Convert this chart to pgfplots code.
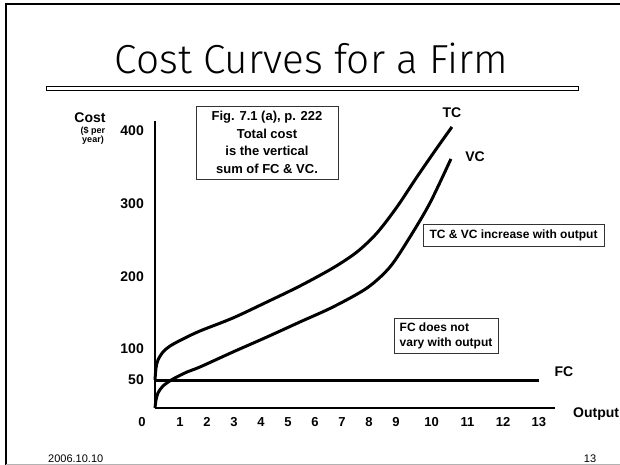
\documentclass[border=0pt]{standalone}
\usepackage{pgfplots}
\pgfplotsset{compat=1.18}
\usepackage{fontspec}
\setmainfont{Liberation Sans}
\newfontfamily\titlefont{Fira Sans}[UprightFont={* Light}]
\begin{document}
\begin{tikzpicture}
\path[use as bounding box] (0pt,0pt) rectangle (620pt,-465pt);
% slide frame
\draw[line width=2.5pt] (6pt,-465pt) -- (6pt,-4pt) -- (620pt,-4pt);
\draw[gray!60, line width=1pt] (6pt,-464.3pt) -- (620pt,-464.3pt);
% title
\node[anchor=base, inner sep=0pt] at (311.5pt,-74pt) {\resizebox{393pt}{!}{\titlefont Cost Curves for a Firm}};
\draw[line width=0.8pt] (46pt,-86.5pt) rectangle (578pt,-90.5pt);
% footer
\node[anchor=base west, inner sep=0pt, font=\fontsize{11pt}{13pt}\selectfont] at (48pt,-462pt) {2006.10.10};
\node[anchor=base, inner sep=0pt, font=\fontsize{11pt}{13pt}\selectfont] at (590pt,-462pt) {13};

\begin{axis}[
  at={(155pt,-408pt)}, anchor=south west,
  scale only axis, width=400pt, height=287pt,
  xmin=0, xmax=13.45, ymin=0, ymax=413.7,
  x coord trafo/.code={\pgfmathparse{25*#1+2*max(#1-1,0)+8.75*max(#1-9,0)}},
  x coord inv trafo/.code={\pgfmathparse{#1/25-0.002963*max(#1-25,0)-0.009065*max(#1-241,0)}},
  y coord trafo/.code={\pgfmathparse{0.56*#1+0.06*max(#1-50,0)+0.1067*max(#1-100,0)}},
  y coord inv trafo/.code={\pgfmathparse{#1/0.56-0.1728*max(#1-28,0)-0.2368*max(#1-59,0)}},
  axis lines=left,
  axis line style={-, line width=1.5pt},
  major tick length=0pt,
  xtick={1,2,3,4,5,6,7,8,9,10,11,12,13},
  xticklabels={1,2,3,4,5,6,7,8,9,10,11,12,13},
  extra x ticks={0}, extra x tick labels={0},
  extra x tick style={xticklabel style={xshift=-13pt}},
  ytick={50,100,200,300,400},
  yticklabels={50,100,200,300,400},
  xticklabel style={font=\bfseries\fontsize{13pt}{15pt}\selectfont, inner sep=0pt, yshift=-9pt},
  yticklabel style={font=\bfseries\fontsize{14pt}{16pt}\selectfont, inner sep=0pt, xshift=-11pt},
  clip=false,
]
% TC
\addplot[line width=3pt, smooth, tension=0.5] coordinates {
(0,50) (0.04,69.4) (0.12,82.3) (0.32,95.2) (0.6,104.1) (1.111,113.8) (1.741,124.8)
(2.963,142.7) (4.222,164.7) (5.444,186.7) (6.667,211.5) (7.556,233.5) (8.296,259.6)
(9.028,295.4) (9.587,336.7) (10.147,376.6) (10.566,405.5)};
% VC
\addplot[line width=3pt, smooth, tension=0.5] coordinates {
(0,0) (0.04,14.3) (0.12,26.8) (0.32,39.3) (0.72,51.6) (1.259,62.9) (1.741,71.0)
(2.963,95.2) (4.222,116.5) (5.444,137.2) (6.667,157.8) (7.926,183.9) (8.778,212.8)
(9.392,254.1) (9.951,300.9) (10.538,361.5)};
% FC
\addplot[line width=3pt] coordinates {(0,50) (13,50)};
\end{axis}

% annotations
\node[font=\bfseries\fontsize{14pt}{16pt}\selectfont, inner sep=0pt] at (452pt,-113pt) {TC};
\node[font=\bfseries\fontsize{14pt}{16pt}\selectfont, inner sep=0pt] at (475pt,-157pt) {VC};
\node[font=\bfseries\fontsize{14pt}{16pt}\selectfont, inner sep=0pt] at (564pt,-372pt) {FC};
\node[font=\bfseries\fontsize{14pt}{16pt}\selectfont, inner sep=0pt, anchor=west] at (573pt,-414pt) {Output};
\node[font=\bfseries\fontsize{14pt}{16pt}\selectfont, inner sep=0pt] at (90pt,-118pt) {Cost};
\node[font=\bfseries\fontsize{9pt}{9.5pt}\selectfont, inner sep=0pt, align=center] at (93pt,-135.5pt) {(\$ per\\year)};

\node[draw=black!80, line width=0.8pt, minimum width=142pt, minimum height=73pt, inner sep=0pt,
      align=center, font=\bfseries\fontsize{13pt}{17.5pt}\selectfont] at (267pt,-142.5pt)
      {Fig. 7.1 (a), p. 222\\Total cost\\is the vertical\\sum of FC \& VC.};
\node[draw=black!80, line width=0.8pt, minimum width=181pt, minimum height=22pt, inner sep=0pt,
      font=\bfseries\fontsize{12pt}{14pt}\selectfont] at (513.5pt,-235pt)
      {TC \& VC increase with output};
\node[draw=black!80, line width=0.8pt, minimum width=104pt, minimum height=35pt, inner sep=0pt,
      align=left, font=\bfseries\fontsize{12pt}{15pt}\selectfont] at (446pt,-335.5pt)
      {FC does not\\vary with output};
\end{tikzpicture}
\end{document}
